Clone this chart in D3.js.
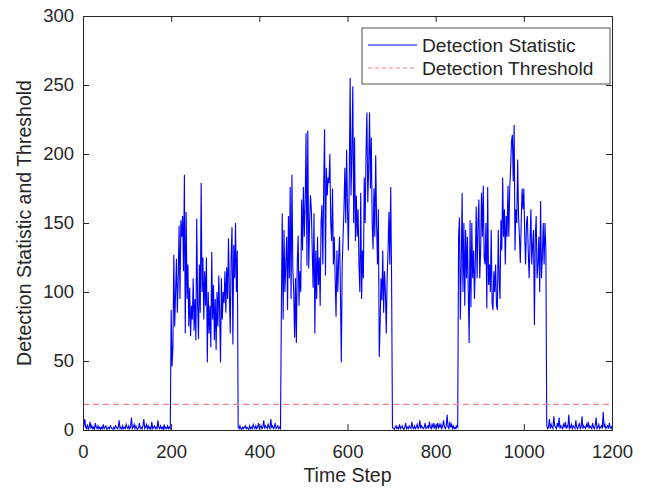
<!DOCTYPE html>
<html>
<head>
<meta charset="utf-8">
<script src="https://cdn.jsdelivr.net/npm/d3@7"></script>
<style>
  body { margin: 0; background: #fff; }
  text { font-family: "Liberation Sans", Arial, sans-serif; fill: #262626; }
</style>
</head>
<body>
<svg id="chart" width="650" height="495"></svg>
<script>
// detection statistic, every 2 time steps, one array per segment
var step = 2

var quietA = [1,3,8,2,1,4,0.5,2,6,1, 3,1,2,0.5,5,2,1,3,1,2, 0.5,2,1,4,1,2,3,0.5,1,2,
  1,3,2,1,0.5,2,1,3,2,1, 2,7,1,2,0.5,3,1,2,1,4, 2,1,3,1,2,9,1,2,4,1,
  3,1,0.5,2,5,1,2,1,3,8, 1,2,4,1,3,1,2,0.5,6,1, 2,3,1,2,1,7,2,1,3,1,
  2,0.5,4,1,2,1,3,1,2,1]                                   // t 0..198
var burstA = [87,46,60,127,75,100,124,85,110,148, 95,152,140,155,115,185,70,158,95,120,
  75,103,68,90,80,110,72,95,65,153, 90,66,120,85,179,100,125,80,115,90,
  125,49,100,70,90,60,129,80,105,65, 95,58,100,75,112,85,49,110,80,100,
  92,115,85,118,95,139,100,70,125,147, 62,134,110,150,100,130]   // t 200..350
var quietB = [2,1,3,1,0.5,2,1,2,3,1, 2,1,0.5,3,1,2,1,4,2,1, 3,1,2,5,1,2,3,1,2,7,
  1,3,2,1,4,2,1,8,2,3, 1,2,5,1,2,3,1,2,1]                   // t 352..448
var burstB = [87,157,80,145,100,120,140,87,155,110, 176,95,185,117,100,67,110,63,120,141,
  90,115,100,167,130,176,140,165,215,119, 217,117,150,170,160,130,103,157,70,130,
  95,140,105,125,90,150,163,120,176,218, 112,190,170,183,179,200,150,137,175,120,
  140,110,82,130,100,125,140,100,49,120, 140,160,190,150,203,160,130,180,255,170,
  200,249,150,212,137,170,140,160,120,100, 172,95,130,110,183,150,200,230,165,190,
  230,175,212,150,131,175,140,199,150,120, 160,53,76,110,94,130,85,115,100,70,
  112,130,158,120,176,110]                                   // t 450..700
var quietC = [2,1,0.5,2,3,1,2,1,4,1, 2,3,1,0.5,2,5,1,2,1,3, 2,1,6,2,1,3,1,2,4,1,
  2,7,1,3,2,1,2,5,1,2, 3,1,6,2,1,4,2,5,1,3, 2,5,1,4,2,4,1,3,7,2,
  1,3,11,2,1,6,2,4,1,3, 1,2,1,3,2]                          // t 702..850
var burstC = [140,154,80,119,172,100,150,90,145,110, 140,100,63,152,89,150,110,130,95,122,
  162,110,150,167,110,130,172,140,177,125, 120,150,88,176,105,120,100,145,92,87,
  115,100,120,90,87,145,110,95,152,130, 183,140,160,120,155,140,177,140,175,190,
  209,214,180,221,130,160,150,196,155,140, 121,150,175,160,175,140,120,150,155,130,
  110,135,160,120,134,145,76,140,155,110, 120,140,100,166,110,125,150,120,150,130]  // t 852..1050
var quietD = [3,1,2,8,1,4,2,1,10,3, 2,1,5,2,9,1,3,2,1,4, 2,6,1,3,2,11,1,2,4,1,
  3,2,1,7,2,1,3,5,1,2, 10,1,3,2,1,4,2,6,1,3, 2,1,5,2,1,3,9,1,2,4,
  1,2,3,1,13,2,4,1,2,3, 1,5,2,1,3]                          // t 1052..1200
var segmentStarts = [0, 200, 352, 450, 702, 852, 1052]

var threshold = 18.5
var xTicks = [0, 200, 400, 600, 800, 1000, 1200]
var yTicks = [0, 50, 100, 150, 200, 250, 300]
var legendLabels = ["Detection Statistic", "Detection Threshold"]

var svg = d3.select("#chart"),
    margin = {top: 16, right: 38, bottom: 65, left: 83},
    width = +svg.attr("width") - margin.left - margin.right,
    height = +svg.attr("height") - margin.top - margin.bottom;

var axisColor = "#262626"

const x = d3.scaleLinear().domain([0, 1200]).range([0, width])
const y = d3.scaleLinear().domain([0, 300]).range([height, 0])

// stitch segments together
var series = []
;[quietA, burstA, quietB, burstB, quietC, burstC, quietD].forEach(function(seg, k){
  seg.forEach(function(v, i){ series.push({t: segmentStarts[k] + i*step, v: v}) })
})

const g = svg.append("g")
  .attr("transform", "translate(" + margin.left + "," + margin.top + ")")

g.append("clipPath").attr("id", "plotclip")
  .append("rect").attr("width", width).attr("height", height)

g.append("rect")
  .attr("width", width).attr("height", height)
  .attr("fill", "#fff")

const line = d3.line().x(d => x(d.t)).y(d => y(d.v))

g.append("path")
  .datum(series)
  .attr("clip-path", "url(#plotclip)")
  .attr("fill", "none")
  .attr("stroke", "#0000ff")
  .attr("stroke-width", 1.1)
  .attr("d", line)

g.append("line")
  .attr("x1", x(0)).attr("x2", x(1200))
  .attr("y1", y(threshold)).attr("y2", y(threshold))
  .attr("stroke", "#ff7f7f")
  .attr("stroke-width", 1.3)
  .attr("stroke-dasharray", "6,4")

// axes, MATLAB style: ticks pointing inward, box on
function styleAxis(sel){
  sel.select(".domain").attr("stroke", axisColor)
  sel.selectAll(".tick line").attr("stroke", axisColor)
  sel.selectAll("text").style("font-size", "18.5px").attr("fill", axisColor)
}

g.append("g")
  .attr("transform", "translate(0," + height + ")")
  .call(d3.axisBottom(x).tickValues(xTicks).tickFormat(d3.format("d"))
    .tickSizeInner(-6).tickSizeOuter(0).tickPadding(15))
  .call(styleAxis)

g.append("g")
  .call(d3.axisTop(x).tickValues(xTicks).tickSizeInner(-6).tickSizeOuter(0).tickFormat(""))
  .call(styleAxis)

g.append("g")
  .call(d3.axisLeft(y).tickValues(yTicks).tickSizeInner(-6).tickSizeOuter(0).tickPadding(9))
  .call(styleAxis)

g.append("g")
  .attr("transform", "translate(" + width + ",0)")
  .call(d3.axisRight(y).tickValues(yTicks).tickSizeInner(-6).tickSizeOuter(0).tickFormat(""))
  .call(styleAxis)

// axis labels
svg.append("text")
  .attr("x", margin.left + width/2)
  .attr("y", 482)
  .attr("text-anchor", "middle")
  .style("font-size", "19.5px")
  .text("Time Step")

svg.append("text")
  .attr("transform", "translate(31," + (margin.top + height/2) + ") rotate(-90)")
  .attr("text-anchor", "middle")
  .style("font-size", "19.5px")
  .text("Detection Statistic and Threshold")

// legend
const legend = svg.append("g").attr("transform", "translate(362,28)")
legend.append("rect")
  .attr("width", 248).attr("height", 56)
  .attr("fill", "#fff")
  .attr("stroke", axisColor)
  .attr("stroke-width", 0.8)

const legendStyles = [
  {stroke: "#0000ff", dash: null, width: 1},
  {stroke: "#ff7f7f", dash: "4,3", width: 1.2}
]

legend.selectAll("g.item")
  .data(legendLabels)
  .join("g")
    .attr("class", "item")
    .attr("transform", (d, i) => "translate(0," + (17 + i*23) + ")")
    .each(function(d, i){
      const it = d3.select(this)
      it.append("line")
        .attr("x1", 6).attr("x2", 55).attr("y1", 0).attr("y2", 0)
        .attr("stroke", legendStyles[i].stroke)
        .attr("stroke-width", legendStyles[i].width)
        .attr("stroke-dasharray", legendStyles[i].dash)
      it.append("text")
        .attr("x", 60).attr("dy", "0.35em")
        .style("font-size", "19.2px")
        .text(d)
    })
</script>
</body>
</html>
